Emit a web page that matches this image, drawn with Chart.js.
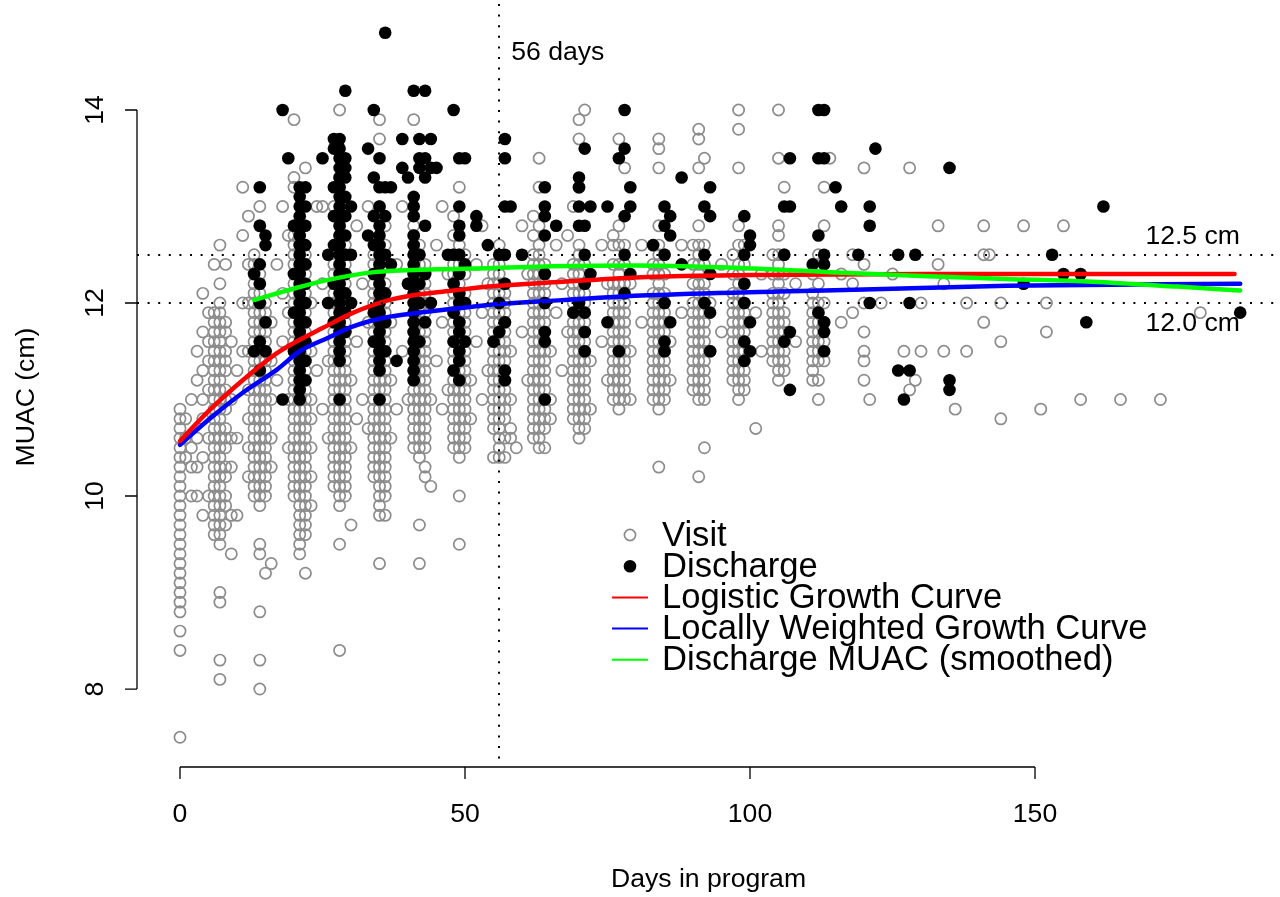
<!DOCTYPE html>
<html>
<head>
<meta charset="utf-8">
<title>MUAC by days in program</title>
<script src="https://cdn.jsdelivr.net/npm/chart.js@4.4.0/dist/chart.umd.min.js"></script>
<style>
  html, body { margin: 0; padding: 0; background: #fff; }
  canvas { display: block; }
</style>
</head>
<body>
<canvas id="muacChart" width="1280" height="897"></canvas>
<script>
// Visit measurements: one list of MUAC values (cm) per day in program
const visitDays = [0, 1, 2, 3, 4, 5, 6, 7, 8, 9, 10, 11, 12, 13, 14, 15, 16, 17, 18, 19, 20, 21, 22, 23, 24, 25, 26, 27, 28, 29, 30, 31, 32, 33, 34, 35, 36, 37, 38, 39, 40, 41, 42, 43, 44, 45, 46, 47, 48, 49, 50, 51, 52, 53, 54, 55, 56, 57, 58, 59, 60, 61, 62, 63, 64, 65, 66, 67, 68, 69, 70, 71, 72, 74, 75, 76, 77, 78, 79, 81, 83, 84, 85, 86, 88, 90, 91, 92, 93, 95, 97, 98, 99, 101, 102, 104, 105, 106, 108, 111, 112, 113, 114, 116, 118, 120, 121, 123, 125, 127, 128, 129, 130, 133, 134, 136, 138, 141, 142, 144, 148, 151, 152, 155, 158, 165, 172, 179];
const visitMuac = [
  [10.9,10.8,10.7,10.6,10.5,10.4,10.3,10.2,10.1,10.0,9.9,9.8,9.7,9.6,9.5,9.4,9.3,9.2,9.1,9.0,8.9,8.8,8.6,8.4,7.5],
  [10.8,10.6,10.4],
  [11.0,10.5,10.3,10.0],
  [11.5,11.2,10.6,10.3,10.0],
  [12.1,11.7,11.3,11.0,10.8,10.4,9.8],
  [11.9,11.6,11.4,11.1,10.6,10.0],
  [12.4,11.9,11.8,11.7,11.6,11.5,11.4,11.3,11.2,11.1,11.0,10.9,10.8,10.7,10.6,10.5,10.4,10.3,10.2,10.1,10.0,9.9,9.8,9.7,9.6],
  [12.6,12.2,12.0,11.9,11.8,11.7,11.6,11.5,11.4,11.3,11.2,11.1,11.0,10.9,10.8,10.7,10.6,10.5,10.4,10.3,10.2,10.1,10.0,9.9,9.8,9.7,9.6,9.5,9.0,8.9,8.3,8.1],
  [12.4,11.8,11.7,11.5,11.4,11.3,11.1,11.0,10.9,10.7,10.6,10.5,10.3,10.2,10.0,9.9,9.7],
  [11.6,11.0,10.6,10.3,9.8,9.4],
  [11.3,10.6,9.8],
  [13.2,12.7,12.0,11.5],
  [12.9,12.4,12.0,11.5,11.1,10.8,10.5,10.2],
  [12.5,12.4,12.3,12.2,12.1,12.0,11.9,11.8,11.7,11.6,11.5,11.4,11.3,11.2,11.1,11.0,10.9,10.8,10.7,10.6,10.5,10.4,10.3,10.2,10.1,10.0],
  [13.0,12.8,12.3,12.2,12.1,12.0,11.9,11.8,11.7,11.6,11.5,11.4,11.3,11.2,11.1,11.0,10.9,10.8,10.7,10.6,10.5,10.4,10.3,10.2,10.1,10.0,9.9,9.5,9.4,8.8,8.3,8.0],
  [12.0,11.9,11.8,11.7,11.6,11.5,11.4,11.3,11.2,11.1,11.0,10.9,10.8,10.7,10.6,10.5,10.4,10.3,10.2,10.1,10.0,9.2],
  [11.8,11.4,11.0,10.6,10.3,9.3],
  [12.4,11.2],
  [13.0,12.1,11.6],
  [12.7,11.9,11.0,10.5],
  [13.9,13.3,13.2,12.8,12.7,12.6,12.5,12.4,12.3,12.2,12.1,12.0,11.9,11.8,11.7,11.6,11.5,11.4,11.3,11.2,11.1,11.0,10.9,10.8,10.7,10.6,10.5,10.4,10.3,10.2,10.1,10.0],
  [12.8,12.7,12.6,12.5,12.4,12.3,12.2,12.1,12.0,11.9,11.8,11.7,11.6,11.5,11.4,11.3,11.2,11.1,11.0,10.9,10.8,10.7,10.6,10.5,10.4,10.3,10.2,10.1,10.0,9.9,9.8,9.7,9.6,9.5,9.4],
  [13.4,12.5,12.4,12.3,12.2,12.1,12.0,11.9,11.8,11.7,11.6,11.5,11.4,11.3,11.2,11.1,11.0,10.9,10.8,10.7,10.6,10.5,10.4,10.3,10.2,10.1,10.0,9.9,9.8,9.7,9.6,9.2],
  [12.0,11.5,11.0,10.8,10.5,10.2,9.9],
  [13.0,11.3],
  [13.0,12.2,10.9],
  [12.0,11.4,10.6],
  [13.0,12.4,12.3,12.2,12.1,12.0,11.9,11.8,11.7,11.6,11.5,11.4,11.3,11.2,11.1,11.0,10.9,10.8,10.7,10.6,10.5,10.4,10.3,10.2,10.1],
  [14.0,13.3,12.8,12.7,12.6,12.5,12.4,12.3,12.2,12.1,12.0,11.9,11.8,11.7,11.6,11.5,11.4,11.3,11.2,11.1,11.0,10.9,10.8,10.7,10.6,10.5,10.4,10.3,10.2,10.1,10.0,9.9,9.5,8.4],
  [12.6,12.5,12.4,12.3,12.2,12.1,12.0,11.9,11.8,11.7,11.6,11.5,11.4,11.3,11.2,11.1,11.0,10.9,10.8,10.7,10.6,10.5,10.4,10.3,10.2,10.1,10.0],
  [12.0,11.2,10.5,9.7],
  [12.8,11.6,10.8],
  [12.2,11.0],
  [13.0,11.8,10.7],
  [12.5,12.4,12.3,12.2,12.1,12.0,11.9,11.8,11.7,11.6,11.5,11.4,11.3,11.2,11.1,11.0,10.9,10.8,10.7,10.6,10.5,10.4,10.3,10.2],
  [13.9,13.7,13.0,12.6,12.5,12.4,12.3,12.2,12.1,12.0,11.9,11.8,11.7,11.6,11.5,11.4,11.3,11.2,11.1,11.0,10.9,10.8,10.7,10.6,10.5,10.4,10.3,10.2,10.1,10.0,9.9,9.8,9.3],
  [12.8,12.6,12.4,12.2,12.1,12.0,11.9,11.8,11.7,11.6,11.5,11.4,11.3,11.2,11.1,11.0,10.9,10.8,10.7,10.6,10.5,10.4,10.3,10.2,10.1,10.0,9.8],
  [11.8,11.2,10.6],
  [12.4,10.9],
  [13.0,11.5],
  [12.2,11.0],
  [13.9,12.8,12.7,12.6,12.5,12.4,12.3,12.2,12.1,12.0,11.9,11.8,11.7,11.6,11.5,11.4,11.3,11.2,11.1,11.0,10.9,10.8,10.7,10.6,10.5],
  [12.6,12.5,12.4,12.3,12.2,12.1,12.0,11.9,11.8,11.7,11.6,11.5,11.4,11.3,11.2,11.1,11.0,10.9,10.8,10.7,10.6,10.5,10.4,9.7,9.3],
  [12.4,12.3,12.2,12.1,12.0,11.9,11.8,11.7,11.6,11.5,11.4,11.3,11.2,11.1,11.0,10.9,10.8,10.7,10.6,10.5,10.3,10.2],
  [12.0,11.0,10.1],
  [12.6,11.4],
  [13.0,11.8,10.9],
  [12.3,11.1],
  [12.9,12.7,12.5,12.4,12.3,12.2,12.1,12.0,11.9,11.8,11.7,11.6,11.5,11.4,11.3,11.2,11.1,11.0,10.9,10.8,10.7,10.6,10.5],
  [13.2,12.6,12.5,12.4,12.3,12.2,12.1,12.0,11.9,11.8,11.7,11.6,11.5,11.4,11.3,11.2,11.1,11.0,10.9,10.8,10.7,10.6,10.5,10.4,10.0,9.5],
  [12.5,12.3,12.1,12.0,11.9,11.8,11.7,11.6,11.5,11.4,11.3,11.2,11.1,11.0,10.9,10.8,10.7,10.6,10.5],
  [11.2,10.8],
  [12.4,11.6],
  [12.8,11.9,11.0],
  [12.2,11.3],
  [12.4,12.3,12.2,12.1,12.0,11.9,11.8,11.7,11.6,11.5,11.4,11.3,11.2,11.1,11.0,10.9,10.8,10.7,10.4],
  [12.6,12.4,12.3,12.2,12.1,12.0,11.9,11.8,11.7,11.6,11.5,11.4,11.3,11.2,11.1,11.0,10.9,10.8,10.7,10.6,10.5,10.4],
  [12.2,12.1,12.0,11.9,11.8,11.7,11.6,11.5,11.4,11.3,11.2,11.1,11.0,10.9,10.8,10.6,10.4],
  [11.5,11.0,10.7,10.6],
  [10.5],
  [12.8,11.7],
  [12.3,11.2],
  [12.9,12.7,12.5,12.4,12.3,12.2,12.1,12.0,11.9,11.8,11.7,11.6,11.5,11.4,11.3,11.2,11.1,11.0,10.9,10.8,10.7,10.6],
  [13.5,13.2,12.8,12.6,12.5,12.4,12.3,12.2,12.1,12.0,11.9,11.8,11.7,11.6,11.5,11.4,11.3,11.2,11.1,11.0,10.9,10.8,10.7,10.6,10.5],
  [12.4,12.3,12.2,12.1,12.0,11.9,11.8,11.7,11.6,11.5,11.4,11.3,11.2,11.1,11.0,10.9,10.8,10.7,10.5],
  [11.5,11.0,10.8],
  [12.6,11.9],
  [12.2,11.3],
  [12.7,11.7],
  [13.0,12.4,12.3,12.2,12.1,12.0,11.9,11.8,11.7,11.6,11.5,11.4,11.3,11.2,11.1,11.0,10.9,10.8],
  [13.9,13.7,13.2,12.6,12.5,12.4,12.3,12.2,12.1,12.0,11.9,11.8,11.7,11.6,11.5,11.4,11.3,11.2,11.1,11.0,10.9,10.8,10.7,10.6],
  [14.0,12.4,12.2,12.1,12.0,11.9,11.8,11.7,11.6,11.5,11.4,11.3,11.2,11.1,11.0,10.9,10.8,10.7],
  [11.4,10.9],
  [12.6,11.6],
  [12.2,11.2],
  [12.7,12.6,12.4,12.2,12.1,12.0,11.9,11.8,11.7,11.6,11.5,11.4,11.3,11.2,11.1,11.0],
  [13.7,12.8,12.6,12.4,12.3,12.2,12.1,12.0,11.9,11.8,11.7,11.6,11.5,11.4,11.3,11.2,11.1,11.0,10.9],
  [13.4,12.6,12.4,12.2,12.0,11.9,11.8,11.7,11.6,11.5,11.4,11.3,11.2,11.1,11.0],
  [12.2,11.5,11.0],
  [12.6,11.8],
  [12.6,12.4,12.3,12.1,12.0,11.9,11.8,11.7,11.6,11.5,11.4,11.3,11.2,11.1,11.0],
  [13.7,13.6,13.4,12.8,12.6,12.5,12.4,12.3,12.2,12.1,12.0,11.9,11.8,11.7,11.6,11.5,11.4,11.3,11.2,11.1,11.0,10.9,10.3],
  [12.5,12.3,12.1,12.0,11.9,11.8,11.7,11.6,11.5,11.4,11.3,11.2,11.1,11.0],
  [11.6,11.2],
  [12.6,11.9],
  [12.6,12.4,12.2,12.0,11.9,11.8,11.7,11.6,11.5,11.4,11.3,11.2,11.1],
  [13.8,13.7,13.4,12.8,12.6,12.5,12.4,12.3,12.2,12.1,12.0,11.9,11.8,11.7,11.6,11.5,11.4,11.3,11.2,11.1,11.0,10.2],
  [13.5,12.6,12.4,12.2,12.1,12.0,11.9,11.8,11.7,11.6,11.5,11.4,11.3,11.2,11.1,11.0,10.5],
  [12.0,11.5],
  [12.4,11.7],
  [12.5,12.3,12.1,12.0,11.9,11.8,11.7,11.6,11.5,11.4,11.3,11.2],
  [14.0,13.8,13.4,12.8,12.6,12.4,12.3,12.2,12.1,12.0,11.9,11.8,11.7,11.6,11.5,11.4,11.3,11.2,11.1,11.0],
  [12.6,12.4,12.2,12.0,11.9,11.8,11.7,11.6,11.5,11.4,11.3,11.2,11.1],
  [11.9,10.7],
  [12.3,11.5],
  [12.5,12.3,12.1,12.0,11.9,11.8,11.7,11.6,11.5,11.4],
  [14.0,13.5,12.8,12.7,12.5,12.4,12.3,12.2,12.1,12.0,11.9,11.8,11.7,11.6,11.5,11.4,11.3,11.2],
  [13.2,12.5,12.3,12.1,11.9,11.8,11.7,11.6,11.5,11.4,11.3],
  [12.2,11.6],
  [12.3,12.1,12.0,11.9,11.8,11.7,11.6,11.5,11.4,11.3,11.2],
  [12.5,12.4,12.2,12.0,11.9,11.8,11.7,11.6,11.5,11.4,11.2,11.0],
  [13.2,12.8,12.0,11.8,11.6,11.4],
  [13.5],
  [12.3,11.8],
  [12.5,12.2,11.9],
  [13.4,12.4,12.0,11.7,11.5,11.4,11.2],
  [11.0],
  [12.0],
  [12.3],
  [11.5],
  [13.4,11.1],
  [11.2],
  [12.0,11.5],
  [12.8,12.4],
  [12.2,11.5],
  [10.9],
  [12.0,11.5],
  [12.8,12.5,11.8],
  [12.5],
  [12.0,11.6,10.8],
  [12.8],
  [10.9],
  [12.0,11.7],
  [12.8],
  [11.0],
  [11.0],
  [11.0],
  [11.9]
];

// Discharge measurements
const dischargeDays = [13, 14, 15, 18, 19, 20, 21, 22, 25, 26, 27, 28, 29, 30, 33, 34, 35, 36, 37, 38, 39, 40, 41, 42, 43, 44, 45, 47, 48, 49, 50, 52, 54, 55, 56, 57, 58, 60, 64, 66, 69, 70, 71, 72, 75, 77, 78, 79, 83, 85, 86, 88, 92, 93, 99, 100, 106, 107, 111, 112, 113, 115, 116, 119, 121, 122, 126, 127, 128, 129, 135, 148, 153, 155, 158, 159, 162, 186];
const dischargeMuac = [
  [12.3,11.5],
  [13.2,12.8,12.4,12.2,12.0,11.6,11.3],
  [12.7,12.6,11.8,11.5],
  [14.0,11.0],
  [13.5],
  [12.8,12.3,11.9,11.5],
  [13.2,13.1,13.0,12.9,12.8,12.7,12.6,12.5,12.4,12.3,12.2,12.1,12.0,11.9,11.8,11.7,11.6,11.5,11.4,11.3,11.2,11.1,11.0],
  [13.2,13.0,12.8,12.6,12.4,12.2,12.0,11.8,11.6,11.4,11.2],
  [13.5],
  [12.5,12.0],
  [13.7,13.6,13.2,12.9,12.6,12.2,11.8],
  [13.7,13.6,13.5,13.4,13.3,13.2,13.1,13.0,12.9,12.8,12.7,12.6,12.5,12.4,12.3,12.2,12.1,12.0,11.9,11.8,11.7,11.6,11.5,11.4,11.0],
  [14.2,13.5,13.4,13.3,13.1,12.9,12.7,12.5,12.3,12.1,11.9,11.7],
  [13.0,12.5,12.0],
  [13.6,12.7],
  [14.0,13.3,12.9,12.6,12.3,11.9,11.6],
  [13.5,13.2,13.0,12.8,12.7,12.6,12.5,12.4,12.3,12.2,12.1,12.0,11.9,11.8,11.7,11.6,11.5,11.4,11.3,11.0],
  [14.8,13.2,12.9,12.5,12.1,11.8,11.5],
  [13.2,12.4],
  [11.4],
  [13.7,13.4],
  [13.3,12.2],
  [14.2,13.1,13.0,12.9,12.7,12.6,12.5,12.4,12.3,12.2,12.1,12.0,11.9,11.8,11.7,11.6,11.5,11.4,11.3,11.2],
  [13.7,13.5,13.4,12.5,12.2,12.0,11.6],
  [14.2,13.5,13.3,12.8,12.3,11.8],
  [13.7,13.4,12.0],
  [13.4],
  [12.5],
  [14.0,12.5,12.2,11.9,11.6,11.3],
  [13.5,13.0,12.8,12.7,12.5,12.3,12.1,12.0,11.8,11.7,11.5,11.4,11.2],
  [13.5,12.4,12.0,11.6],
  [12.9,12.8],
  [12.6],
  [11.6],
  [12.5,12.0,11.7],
  [13.7,13.5,13.0,12.5,12.2,11.8,11.3,11.2],
  [13.0],
  [12.5],
  [13.2,13.0,12.9,12.7,12.3,12.0,11.7,11.6,11.0],
  [12.8],
  [11.9],
  [13.3,13.2,13.0,12.8,12.0],
  [13.6,12.8,12.5,12.2,11.9,11.7,11.5],
  [13.0,12.3],
  [13.0,11.8],
  [13.5,11.5],
  [14.0,13.6,12.9,12.5,12.1],
  [13.2,13.0,12.3],
  [12.6],
  [13.0,12.8,12.5,12.0,11.6,11.5],
  [12.9,12.7,11.8],
  [13.3,12.4],
  [13.0,12.5,12.0],
  [13.2,12.9,12.3,11.9,11.5],
  [12.9,12.5,12.2,12.0,11.6,11.4],
  [12.7,12.6,11.8,11.5],
  [13.0,12.5,11.6],
  [13.5,13.0,11.7,11.1],
  [12.4],
  [14.0,13.5,12.7,11.9],
  [14.0,13.5,12.5,12.4,11.8,11.7,11.5],
  [13.2],
  [13.0],
  [12.5],
  [13.0,12.8,12.0],
  [13.6],
  [12.5,11.3],
  [11.0],
  [12.0,11.3],
  [12.5],
  [13.4,11.2,11.1],
  [12.2],
  [12.5],
  [12.3],
  [12.3],
  [11.8],
  [13.0],
  [11.9]
];

// Fitted curves
const logisticDays = [0, 5, 11, 17, 21, 25, 30, 36, 42, 48, 54, 67, 82, 100, 130, 160, 185];
const logisticMuac = [10.57, 10.88, 11.2, 11.48, 11.62, 11.74, 11.89, 12.02, 12.09, 12.13, 12.17, 12.22, 12.27, 12.29, 12.3, 12.3, 12.3];
const loessDays = [0, 5, 11, 17, 21, 26, 30, 36, 42, 48, 54, 67, 82, 105, 120, 145, 186];
const loessMuac = [10.53, 10.79, 11.07, 11.31, 11.5, 11.64, 11.75, 11.85, 11.9, 11.94, 11.98, 12.03, 12.08, 12.12, 12.14, 12.18, 12.2];
const smoothDays = [13, 20, 26, 34, 45, 54, 65, 80, 95, 114, 130, 145, 160, 175, 186];
const smoothMuac = [12.03, 12.15, 12.24, 12.32, 12.35, 12.36, 12.38, 12.39, 12.37, 12.32, 12.28, 12.25, 12.22, 12.17, 12.13];

const xTicks = [0, 50, 100, 150];
const yTicks = [8, 10, 12, 14];
const refMuac = [12.5, 12.0];
const refMuacLabels = ["12.5 cm", "12.0 cm"];
const refDay = 56;
const refDayLabel = "56 days";

const FONT = '"Liberation Sans", Arial, Helvetica, sans-serif';
const GREY = "rgb(140,140,140)";

function toPoints(days, lists) {
  const pts = [];
  days.forEach((d, i) => {
    lists[i].forEach((v) => pts.push({ x: d, y: v }));
  });
  return pts;
}

function toLine(days, values) {
  return days.map((d, i) => ({ x: d, y: values[i] }));
}

function lineDataset(label, days, values, color, order) {
  return {
    label: label,
    data: toLine(days, values),
    showLine: true,
    borderColor: color,
    backgroundColor: color,
    borderWidth: 4.5,
    pointRadius: 0,
    cubicInterpolationMode: "monotone",
    borderCapStyle: "round",
    order: order,
  };
}

// R-style axes, reference lines and legend
const rStyle = {
  id: "rStyle",
  afterDatasetsDraw(chart) {
    const { ctx, chartArea, scales } = chart;
    const x = scales.x;
    const y = scales.y;
    ctx.save();
    ctx.strokeStyle = "#000";
    ctx.lineWidth = 2;
    ctx.setLineDash([2, 8.6]);
    refMuac.forEach((v) => {
      const py = Math.round(y.getPixelForValue(v));
      ctx.beginPath();
      ctx.moveTo(chartArea.left, py);
      ctx.lineTo(chartArea.right, py);
      ctx.stroke();
    });
    const px = Math.round(x.getPixelForValue(refDay));
    ctx.beginPath();
    ctx.moveTo(px, chartArea.top + 4);
    ctx.lineTo(px, chartArea.bottom - 8);
    ctx.stroke();
    ctx.restore();
  },
  afterDraw(chart) {
    const { ctx, chartArea, scales } = chart;
    const x = scales.x;
    const y = scales.y;
    ctx.save();
    ctx.strokeStyle = "#000";
    ctx.fillStyle = "#000";
    ctx.lineWidth = 1.3;
    ctx.font = "26.6px " + FONT;

    // x axis
    const axisY = chartArea.bottom;
    const x0 = x.getPixelForValue(xTicks[0]);
    const x1 = x.getPixelForValue(xTicks[xTicks.length - 1]);
    ctx.beginPath();
    ctx.moveTo(x0, axisY);
    ctx.lineTo(x1, axisY);
    xTicks.forEach((t) => {
      const p = x.getPixelForValue(t);
      ctx.moveTo(p, axisY);
      ctx.lineTo(p, axisY + 12);
    });
    ctx.stroke();
    ctx.textAlign = "center";
    ctx.textBaseline = "middle";
    xTicks.forEach((t) => {
      ctx.fillText(String(t), x.getPixelForValue(t), 815);
    });
    ctx.fillText("Days in program", (chartArea.left + chartArea.right) / 2, 880);

    // y axis
    const axisX = chartArea.left;
    const y0 = y.getPixelForValue(yTicks[0]);
    const y1 = y.getPixelForValue(yTicks[yTicks.length - 1]);
    ctx.beginPath();
    ctx.moveTo(axisX, y0);
    ctx.lineTo(axisX, y1);
    yTicks.forEach((t) => {
      const p = y.getPixelForValue(t);
      ctx.moveTo(axisX, p);
      ctx.lineTo(axisX - 12, p);
    });
    ctx.stroke();
    yTicks.forEach((t) => {
      ctx.save();
      ctx.translate(96, y.getPixelForValue(t));
      ctx.rotate(-Math.PI / 2);
      ctx.fillText(String(t), 0, 0);
      ctx.restore();
    });
    ctx.save();
    ctx.translate(27, 397);
    ctx.rotate(-Math.PI / 2);
    ctx.fillText("MUAC (cm)", 0, 0);
    ctx.restore();

    // reference labels
    ctx.textAlign = "left";
    ctx.fillText(refDayLabel, x.getPixelForValue(refDay) + 12, 53);
    ctx.textAlign = "right";
    ctx.fillText(refMuacLabels[0], 1240, y.getPixelForValue(refMuac[0]) - 18);
    ctx.fillText(refMuacLabels[1], 1240, y.getPixelForValue(refMuac[1]) + 21);

    // legend
    const items = chart.data.datasets.slice().sort((a, b) => a.legendRank - b.legendRank);
    const symX = 630;
    const textX = 662;
    let rowY = 535;
    ctx.font = "34.6px " + FONT;
    ctx.textAlign = "left";
    items.forEach((ds) => {
      if (ds.showLine) {
        ctx.strokeStyle = ds.borderColor;
        ctx.lineWidth = 2;
        ctx.beginPath();
        ctx.moveTo(symX - 18, rowY);
        ctx.lineTo(symX + 18, rowY);
        ctx.stroke();
      } else if (ds.legendFilled) {
        ctx.fillStyle = "#000";
        ctx.beginPath();
        ctx.arc(symX, rowY, 6.3, 0, Math.PI * 2);
        ctx.fill();
      } else {
        ctx.strokeStyle = GREY;
        ctx.lineWidth = 1.7;
        ctx.beginPath();
        ctx.arc(symX, rowY, 5.6, 0, Math.PI * 2);
        ctx.stroke();
      }
      ctx.fillStyle = "#000";
      ctx.fillText(ds.label, textX, rowY + 1);
      rowY += 31.2;
    });
    ctx.restore();
  },
};

const visitSet = {
  label: "Visit",
  data: toPoints(visitDays, visitMuac),
  pointRadius: 5.6,
  pointBorderWidth: 1.7,
  pointBorderColor: GREY,
  pointBackgroundColor: "rgba(0,0,0,0)",
  borderColor: GREY,
  order: 5,
  legendRank: 0,
};

const dischargeSet = {
  label: "Discharge",
  data: toPoints(dischargeDays, dischargeMuac),
  pointRadius: 6.3,
  pointBorderWidth: 0,
  pointBackgroundColor: "#000",
  borderColor: "#000",
  order: 4,
  legendRank: 1,
  legendFilled: true,
};

const logisticSet = lineDataset("Logistic Growth Curve", logisticDays, logisticMuac, "#ff0000", 1);
logisticSet.legendRank = 2;
const loessSet = lineDataset("Locally Weighted Growth Curve", loessDays, loessMuac, "#0000ff", 2);
loessSet.legendRank = 3;
const smoothSet = lineDataset("Discharge MUAC (smoothed)", smoothDays, smoothMuac, "#00ff00", 0);
smoothSet.legendRank = 4;

new Chart(document.getElementById("muacChart"), {
  type: "scatter",
  data: {
    datasets: [visitSet, dischargeSet, logisticSet, loessSet, smoothSet],
  },
  options: {
    responsive: false,
    animation: false,
    devicePixelRatio: 1,
    layout: { autoPadding: false, padding: { left: 137, right: 0, top: 0, bottom: 130 } },
    scales: {
      x: { type: "linear", min: -7.544, max: 192.98, display: false },
      y: { type: "linear", min: 7.192, max: 15.14, display: false },
    },
    plugins: {
      legend: { display: false },
      tooltip: { enabled: false },
    },
  },
  plugins: [rStyle],
});
</script>
</body>
</html>
